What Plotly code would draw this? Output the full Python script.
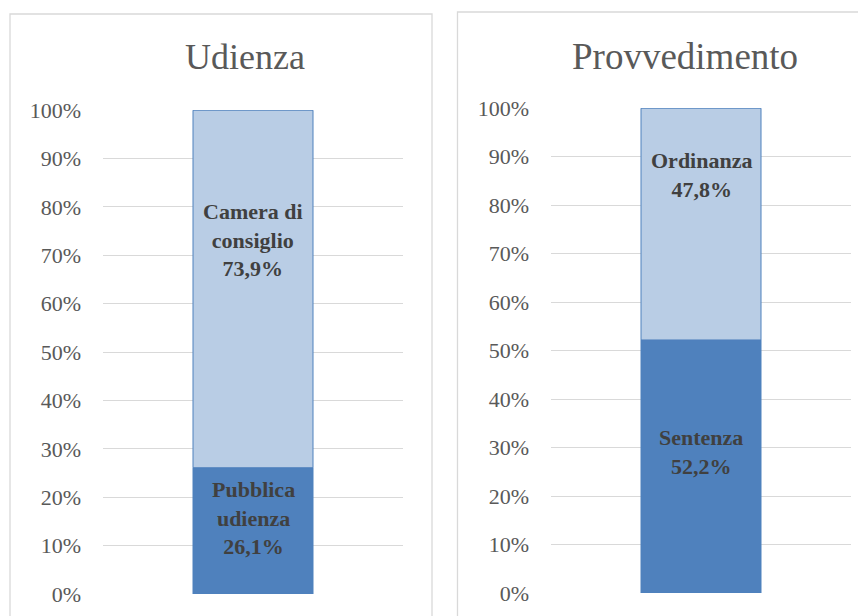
import plotly.graph_objects as go

# ---- data ----
panel_titles = ["Udienza", "Provvedimento"]
udienza_labels = ["Pubblica<br>udienza", "Camera di<br>consiglio"]
udienza_values = [0.261, 0.739]
provv_labels = ["Sentenza", "Ordinanza"]
provv_values = [0.522, 0.478]
tick_vals = [0, 0.1, 0.2, 0.3, 0.4, 0.5, 0.6, 0.7, 0.8, 0.9, 1.0]
tick_text = ["0%", "10%", "20%", "30%", "40%", "50%", "60%", "70%", "80%", "90%", "100%"]

# ---- style ----
W, H = 866, 616
OFF = 8  # page body margin offset compensation
colors = ["#4F81BD", "#B9CDE5"]
label_frac = {"x": [0.60, 0.636], "x2": [0.557, 0.711]}
font_family = "Liberation Serif, Times New Roman, serif"

fig = go.Figure()

def add_stack(labels, values, xa, ya):
    base = 0
    for i, (lab, v) in enumerate(zip(labels, values)):
        fig.add_trace(go.Bar(
            x=[0], y=[v], base=[base], width=[0.4],
            marker=dict(color=colors[i], line=dict(color="#4F81BD", width=1)),
            xaxis=xa, yaxis=ya, showlegend=False, hoverinfo="skip",
        ))
        txt = f"<b>{lab}<br>{v*100:.1f}%</b>".replace(".", ",")
        fig.add_annotation(
            x=0, y=base + v * label_frac[xa][i], xref=xa, yref=ya,
            text=txt, showarrow=False, xanchor="center", yanchor="middle",
            font=dict(family=font_family, size=22, color="#404040"),
            align="center",
        )
        base += v

add_stack(udienza_labels, udienza_values, "x", "y")
add_stack(provv_labels, provv_values, "x2", "y2")

def px_x(p):
    return (p - OFF) / W

def px_y(p):
    return 1 - (p - OFF) / H

axis_common = dict(
    tickvals=tick_vals, ticktext=tick_text, range=[0, 1.0005],
    showgrid=True, gridcolor="#D9D9D9", gridwidth=1, zeroline=False,
    showline=False, ticks="", ticklabelstandoff=21, automargin=False,
    tickfont=dict(family=font_family, size=22, color="#595959"),
    fixedrange=True,
)
xaxis_common = dict(range=[-0.5, 0.5], showticklabels=False, showgrid=False,
                    zeroline=False, showline=False, fixedrange=True,
                    automargin=False)

fig.update_layout(
    width=W, height=H,
    margin=dict(l=0, r=0, t=0, b=0, pad=0, autoexpand=False),
    paper_bgcolor="white", plot_bgcolor="white",
    barmode="overlay",
    xaxis=dict(domain=[px_x(103), px_x(403)], anchor="y", **xaxis_common),
    yaxis=dict(domain=[px_y(594), px_y(110)], anchor="x", **axis_common),
    xaxis2=dict(domain=[px_x(551), px_x(851)], anchor="y2", **xaxis_common),
    yaxis2=dict(domain=[px_y(593), px_y(108)], anchor="x2", **axis_common),
)

# panel borders
fig.add_shape(type="rect", xref="paper", yref="paper",
              x0=px_x(10), x1=px_x(432), y0=px_y(640), y1=px_y(14),
              line=dict(color="#D9D9D9", width=1.3), layer="below")
fig.add_shape(type="rect", xref="paper", yref="paper",
              x0=px_x(457.5), x1=px_x(890), y0=px_y(640), y1=px_y(12),
              line=dict(color="#D9D9D9", width=1.3), layer="below")

# titles
for title, cx, cy, fs in [(panel_titles[0], 245, 57, 36), (panel_titles[1], 685, 56, 37)]:
    fig.add_annotation(x=px_x(cx), y=px_y(cy), xref="paper", yref="paper",
                       xanchor="center", yanchor="middle",
                       text=title, showarrow=False,
                       font=dict(family=font_family, size=fs, color="#595959"))

fig.write_html("out.html")
